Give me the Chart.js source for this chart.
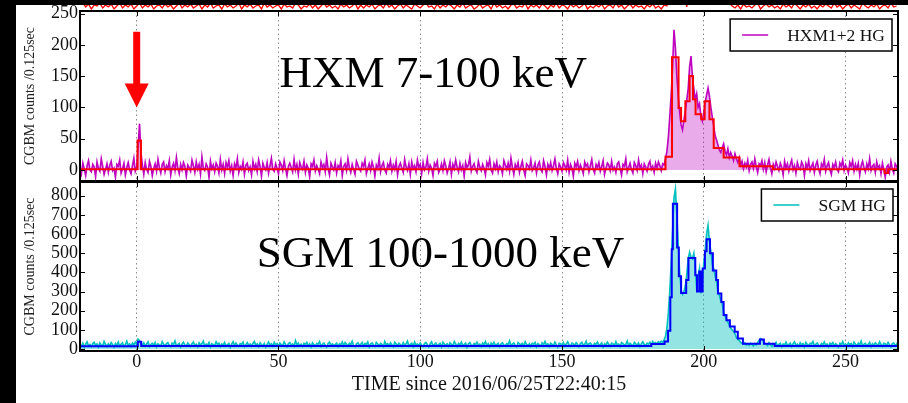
<!DOCTYPE html>
<html>
<head>
<meta charset="utf-8">
<title>CGBM light curve</title>
<script src="https://cdn.jsdelivr.net/npm/chart.js@4.4.0/dist/chart.umd.min.js"></script>
<style>
  html, body { margin: 0; padding: 0; background: #000; }
  body { width: 908px; height: 403px; position: relative; overflow: hidden; }
  #sheet { position: absolute; left: 16px; top: 5px; width: 892px; height: 398px; background: #fff; }
  canvas { position: absolute; left: 16px; }
</style>
</head>
<body>
<div id="sheet"></div>
<canvas id="upper" width="892" height="6" style="top:5px"></canvas>
<canvas id="hxm" width="892" height="177" style="top:5px"></canvas>
<canvas id="sgm" width="892" height="222" style="top:181px"></canvas>
<script>
// Courbes de lumière CGBM, pas de 0.5 s depuis T0 = 2016/06/25T22:40:15
const binStart = -20;
const binWidth = 0.5;
const timeTicks = [0, 50, 100, 150, 200, 250];
const hxmTicks = [0, 50, 100, 150, 200, 250];
const sgmTicks = [0, 100, 200, 300, 400, 500, 600, 700, 800];

// HXM1+2 HG (comptes / 0.125 s), une ligne = 10 s
const hxmCounts = [
  4, -6, 11, 2, -9, 7, 15, 0, -3, 9, 5, -11, 13, 3, -2, 18, 6, -7, 1, 10,
  -4, 8, 14, -1, 3, -12, 9, 6, 16, -5, 2, 11, -8, 4, 12, 0, -6, 7, 19, -2,
  5, 38, 74, 28, 8, -7, 12, 1, -4, 14, 6, -9, 3, 10, -2, 17, 4, -5, 9, 13,
  -3, 7, 2, 15, -8, 5, 11, -1, 20, 3, -6, 9, 0, 12, 6, -10, 8, 4, -2, 16,
  7, -4, 13, 1, 9, -7, 21, 3, -1, 10, 5, -12, 14, 2, 8, -3, 11, 6, -5, 17,
  0, 9, -6, 12, 4, 15, -2, 7, -9, 10, 3, 18, -4, 6, 1, 13, -7, 8, 11, -1,
  5, -8, 14, 2, 9, -3, 16, 6, -10, 11, 4, 0, 12, -5, 7, 19, 1, -2, 10, 3,
  -6, 13, 8, -1, 15, 2, -9, 6, 11, 4, -3, 17, 0, 9, -7, 12, 5, 1, 14, -4,
  8, 3, -11, 10, 6, 16, -2, 7, 1, -6, 13, 4, 9, -3, 20, 2, -8, 11, 5, 0,
  12, -5, 7, 3, 15, -9, 6, 10, -1, 18, 4, -4, 9, 1, -7, 14, 8, 2, -2, 11,
  6, 16, -6, 3, 10, -1, 13, 5, -10, 8, 2, 19, -3, 7, 12, 0, -5, 9, 4, 15,
  -2, 8, 1, 14, -8, 6, 11, 3, -4, 17, 5, -1, 10, -7, 13, 2, 7, -3, 16, 4,
  9, -6, 12, 0, 5, 18, -2, 8, 3, -9, 11, 6, 14, -4, 1, 10, -1, 15, 7, -5,
  3, 13, -7, 9, 2, 16, 5, -3, 11, 0, 7, -10, 12, 4, 8, 21, -2, 6, 10, 1,
  -4, 14, 5, -1, 9, 3, -8, 12, 6, 17, 0, -5, 10, 2, 13, -3, 7, 4, -6, 15,
  8, 1, 11, -2, 19, 5, -7, 9, 3, 12, -4, 6, 14, 0, -9, 10, 7, 2, 16, -1,
  4, 11, -5, 8, 13, 1, -3, 15, 6, -8, 9, 2, 12, -1, 7, 18, 3, -6, 10, 5,
  -2, 12, 7, 0, 16, -4, 9, 3, -10, 11, 5, 14, -1, 8, 2, -6, 13, 6, 10, -3,
  7, 17, 1, -5, 9, 4, 12, -2, 6, 15, -7, 3, 11, 8, -1, 14, 0, 5, -4, 10,
  13, 2, -8, 9, 6, 18, -3, 4, 11, 1, -5, 12, 7, -1, 16, 3, 8, -6, 10, 5,
  -2, 9, 14, 1, 6, -4, 11, 3, 13, 7, -1, 10, 8, 18, 30, 52, 85, 120, 165, 224,
  195, 150, 118, 92, 72, 64, 80, 95, 112, 130, 165, 182, 148, 130, 112, 122, 100, 106, 85, 78,
  92, 108, 120, 131, 118, 100, 85, 70, 55, 48, 40, 32, 28, 36, 42, 30, 24, 34, 20, 28,
  22, 15, 26, 18, 12, 20, 8, 14, 2, 11, 5, 16, -1, 9, 13, 3, 18, 6, -4, 10,
  7, 15, 1, 12, -3, 8, 17, 4, -6, 9, 2, 13, 6, -1, 11, 5, -8, 14, 3, 10,
  -2, 9, 16, 0, 7, -5, 12, 4, 1, 13, 8, -9, 10, 3, 15, -1, 6, 11, -4, 8,
  14, 2, -6, 10, 5, 17, -2, 7, 12, 0, -7, 9, 4, 13, 1, -3, 11, 6, 16, -1,
  8, 3, -5, 12, 6, 15, -2, 9, 1, 11, -8, 7, 14, 4, -3, 10, 2, 18, -1, 6,
  9, -4, 13, 3, 7, -6, 11, 1, -12, 5, 8, -3, 14, 2, -5, 10, 6, 0
];

// blocs HXM (début du bloc en s, niveau)
const hxmBlockStart = [-20, 0.3, 1.5, 186.5, 188.8, 191.1, 192.0, 193.5, 195.0, 196.2,
  197.1, 199.1, 200.3, 202.0, 203.5, 207.0, 212.6, 224.3, 263.8, 265.0, 268.5];
const hxmBlockLevel = [1, 47, 1, 21, 180, 99, 78, 110, 150, 113,
  89, 81, 110, 81, 35, 20, 6, 1, -5, 1, 1];

// SGM HG (comptes / 0.125 s), une ligne = 10 s
const sgmCounts = [
  22, 14, 31, 9, 26, 38, 17, 24, 12, 29, 35, 19, 27, 11, 33, 21, 16, 40, 25, 13,
  28, 18, 34, 23, 10, 30, 20, 37, 15, 26, 32, 12, 24, 42, 19, 27, 14, 31, 22, 36,
  25, 52, 45, 30, 21, 33, 16, 27, 38, 13, 24, 31, 19, 35, 11, 28, 22, 17, 39, 26,
  15, 29, 34, 20, 12, 31, 25, 43, 18, 23, 30, 10, 27, 36, 21, 16, 32, 24, 14, 28,
  37, 19, 25, 12, 33, 22, 29, 41, 15, 26, 20, 34, 11, 28, 23, 17, 38, 24, 31, 13,
  27, 21, 35, 16, 24, 30, 9, 26, 39, 18, 32, 22, 14, 29, 25, 36, 12, 23, 34, 19,
  26, 15, 31, 40, 20, 27, 13, 33, 24, 17, 30, 11, 25, 37, 21, 28, 16, 35, 22, 29,
  14, 32, 23, 18, 38, 25, 12, 29, 34, 20, 27, 15, 44, 22, 31, 17, 26, 13, 30, 24,
  35, 19, 28, 11, 33, 23, 16, 30, 26, 39, 14, 25, 32, 20, 10, 29, 36, 21, 27, 18,
  24, 31, 13, 28, 22, 37, 17, 34, 26, 15, 30, 23, 41, 19, 12, 27, 33, 20, 25, 35,
  16, 29, 24, 38, 11, 26, 32, 21, 14, 35, 27, 18, 30, 25, 13, 40, 22, 28, 17, 33,
  23, 12, 36, 27, 19, 31, 24, 15, 34, 21, 28, 42, 16, 25, 30, 13, 37, 22, 26, 18,
  31, 20, 14, 29, 35, 24, 11, 27, 38, 19, 25, 32, 17, 23, 30, 12, 36, 26, 21, 28,
  15, 33, 24, 19, 40, 27, 13, 30, 22, 36, 18, 25, 31, 10, 28, 34, 21, 16, 29, 23,
  37, 20, 26, 14, 32, 24, 39, 17, 28, 12, 31, 22, 35, 19, 25, 30, 13, 27, 33, 21,
  18, 29, 24, 43, 15, 26, 32, 20, 11, 34, 27, 23, 30, 16, 38, 25, 19, 28, 14, 31,
  26, 35, 12, 29, 22, 17, 33, 24, 40, 20, 27, 13, 31, 25, 18, 36, 23, 10, 30, 28,
  21, 34, 16, 26, 38, 22, 14, 31, 27, 19, 33, 24, 12, 29, 35, 20, 25, 41, 17, 28,
  32, 23, 15, 30, 26, 37, 18, 24, 33, 11, 28, 21, 36, 25, 14, 31, 27, 19, 39, 22,
  26, 13, 34, 29, 20, 25, 42, 17, 30, 23, 15, 35, 27, 21, 32, 12, 28, 38, 24, 19,
  31, 26, 36, 22, 40, 29, 34, 27, 38, 32, 41, 35, 48, 66, 110, 190, 300, 450, 620, 790,
  835, 700, 540, 400, 310, 285, 300, 330, 390, 470, 505, 480, 470, 500, 430, 310, 380, 420, 290, 360,
  450, 520, 600, 645, 560, 510, 440, 420, 380, 350, 300, 280, 250, 235, 190, 170, 155, 140, 125, 110,
  100, 92, 80, 60, 52, 44, 35, 30, 26, 33, 21, 28, 19, 31, 24, 16, 29, 22, 35, 45,
  55, 50, 41, 30, 26, 18, 33, 24, 14, 28, 21, 35, 17, 25, 30, 12, 27, 22, 36, 19,
  24, 31, 13, 28, 38, 20, 26, 15, 33, 22, 29, 11, 35, 24, 18, 30, 27, 40, 16, 25,
  32, 21, 14, 29, 23, 37, 19, 26, 12, 31, 25, 34, 17, 28, 22, 10, 30, 24, 39, 20,
  27, 16, 33, 23, 29, 13, 36, 25, 19, 31, 22, 42, 15, 26, 30, 18, 24, 35, 12, 28,
  21, 33, 26, 17, 38, 24, 14, 30, 27, 20, 35, 23, 11, 29, 32, 19, 25, 37
];

// blocs SGM (début du bloc en s, niveau)
const sgmBlockStart = [-20, 0.4, 1.6, 181.5, 186.2, 187.4, 188.2, 188.7, 189.1, 190.6,
  191.2, 192.0, 193.8, 194.6, 197.0, 197.6, 198.4, 199.0, 199.6, 200.4,
  201.0, 202.2, 203.2, 204.4, 205.0, 206.2, 207.0, 208.0, 209.2, 210.9,
  212.0, 213.8, 219.8, 221.2, 225.0, 268.5];
const sgmBlockLevel = [15, 38, 16, 26, 40, 95, 270, 520, 758, 530,
  380, 292, 360, 475, 385, 300, 405, 300, 420, 510,
  572, 500, 410, 360, 290, 245, 178, 150, 118, 90,
  55, 28, 50, 28, 16, 16];

// bas du panneau du dessus (pas de 1 s)
const upperStart = -20;
const upperWidth = 1;
const upperCounts = [
  9, 8, 4, 7, 2, 6, 5, 8, 3, 6,
  4, 7, 2, 5, 8, 3, 6, 4, 7, 2,
  5, 8, 3, 6, 4, 7, 2, 5, 6, 3,
  7, 4, 6, 2, 5, 8, 3, 6, 4, 7,
  3, 5, 7, 2, 6, 4, 8, 3, 5, 6,
  2, 7, 4, 6, 3, 5, 8, 2, 6, 4,
  7, 3, 5, 6, 2, 8, 4, 6, 3, 5,
  6, 2, 7, 4, 5, 3, 8, 6, 2, 5,
  4, 7, 3, 6, 2, 5, 8, 4, 6, 3,
  5, 2, 7, 4, 6, 3, 5, 8, 2, 6,
  3, 6, 4, 7, 2, 5, 6, 3, 8, 4,
  6, 2, 5, 7, 3, 6, 4, 2, 7, 5,
  3, 6, 8, 4, 5, 2, 7, 3, 6, 4,
  7, 5, 2, 6, 4, 8, 3, 5, 6, 2,
  4, 7, 3, 5, 6, 2, 8, 4, 6, 3,
  5, 2, 6, 7, 3, 5, 4, 8, 2, 6,
  4, 6, 3, 7, 5, 2, 6, 4, 8, 3,
  6, 5, 2, 7, 4, 6, 3, 5, 8, 2,
  5, 3, 6, 4, 7, 2, 5, 6, 3, 8,
  4, 6, 2, 5, 7, 3, 6, 4, 5, 2,
  6, 4, 7, 3, 5, 2, 6, 5, 20, 40,
  60, 80, 70, 40, 4, 30, 50, 60, 45, 40,
  35, 30, 28, 25, 20, 18, 15, 12, 10, 8,
  5, 3, 6, 2, 7, 4, 5, 3, 6, 8,
  2, 5, 7, 4, 6, 3, 5, 2, 7, 4,
  6, 3, 8, 5, 2, 6, 4, 7, 3, 5,
  2, 6, 4, 7, 5, 3, 8, 4, 6, 2,
  5, 7, 3, 6, 4, 2, 8, 5, 3, 6,
  4, 7, 2, 5, 6, 3, 8, 4, 5
];

const timeMin = -20;
const timeMax = 268.5;
const serif = '"Liberation Serif", "DejaVu Serif", serif';

Chart.defaults.font.family = serif;
Chart.defaults.color = '#000';

function binPoints(values, start, width) {
  return values.map((v, i) => ({ x: start + i * width, y: v }));
}

function blockPoints(starts, levels) {
  return starts.map((s, i) => ({ x: s, y: levels[i] }));
}

// cadre noir et graduations vers l'intérieur sur les 4 côtés
const frameTicks = {
  id: 'frameTicks',
  afterDraw(chart) {
    const { ctx, chartArea: a, scales } = chart;
    const len = 5;
    ctx.save();
    ctx.strokeStyle = '#000';
    ctx.lineWidth = 1;
    ctx.beginPath();
    scales.x.ticks.forEach(function(t) {
      const px = Math.round(scales.x.getPixelForValue(t.value)) + 0.5;
      ctx.moveTo(px, a.top); ctx.lineTo(px, a.top + len);
      ctx.moveTo(px, a.bottom); ctx.lineTo(px, a.bottom - len);
    });
    scales.y.ticks.forEach(function(t) {
      const py = Math.round(scales.y.getPixelForValue(t.value)) + 0.5;
      ctx.moveTo(a.left, py); ctx.lineTo(a.left + len, py);
      ctx.moveTo(a.right, py); ctx.lineTo(a.right - len, py);
    });
    ctx.stroke();
    ctx.lineWidth = 2;
    ctx.strokeRect(a.left, a.top, a.right - a.left, a.bottom - a.top);
    ctx.restore();
  }
};

// légende encadrée en haut à droite
const boxLegend = {
  id: 'boxLegend',
  afterDraw(chart, args, opts) {
    const ds = chart.data.datasets[opts.datasetIndex];
    const { ctx, chartArea: a } = chart;
    ctx.save();
    ctx.font = '17.5px ' + serif;
    const w = 57 + ctx.measureText(ds.label).width + 7;
    const h = 32;
    const x = a.right - opts.right - w;
    const y = a.top + opts.top;
    ctx.fillStyle = '#fff';
    ctx.fillRect(x, y, w, h);
    ctx.strokeStyle = '#000';
    ctx.lineWidth = 1.5;
    ctx.strokeRect(x, y, w, h);
    ctx.strokeStyle = ds.borderColor;
    ctx.lineWidth = 1.5;
    ctx.beginPath();
    ctx.moveTo(x + 12, y + h / 2);
    ctx.lineTo(x + 38, y + h / 2);
    ctx.stroke();
    ctx.fillStyle = '#111';
    ctx.textBaseline = 'middle';
    ctx.fillText(ds.label, x + 57, y + h / 2 + 1);
    ctx.restore();
  }
};

// texte du panneau et flèche rouge
const notes = {
  id: 'notes',
  afterDatasetsDraw(chart, args, opts) {
    const { ctx, scales: { x, y } } = chart;
    ctx.save();
    ctx.font = '45px ' + serif;
    ctx.fillStyle = '#000';
    ctx.fillText(opts.text, x.getPixelForValue(opts.at[0]), y.getPixelForValue(opts.at[1]));
    if (opts.arrow) {
      const px = x.getPixelForValue(opts.arrow.x);
      const yTop = y.getPixelForValue(opts.arrow.from);
      const yTip = y.getPixelForValue(opts.arrow.to);
      const yHead = yTip - 24;
      ctx.fillStyle = '#ff0000';
      ctx.beginPath();
      ctx.moveTo(px - 3.5, yTop);
      ctx.lineTo(px + 3.5, yTop);
      ctx.lineTo(px + 3.5, yHead);
      ctx.lineTo(px + 12, yHead);
      ctx.lineTo(px, yTip);
      ctx.lineTo(px - 12, yHead);
      ctx.lineTo(px - 3.5, yHead);
      ctx.closePath();
      ctx.fill();
    }
    ctx.restore();
  }
};

function xAxis(showLabels) {
  return {
    type: 'linear',
    min: timeMin,
    max: timeMax,
    afterBuildTicks: function(scale) {
      scale.ticks = timeTicks.map(v => ({ value: v }));
    },
    afterFit: function(scale) {
      scale.height = showLabels ? 52 : 0;
      scale.paddingLeft = 0;
      scale.paddingRight = 0;
    },
    grid: { display: true, drawTicks: false, color: '#8a8a8a', lineWidth: 1 },
    border: { display: false, dash: [1.5, 3] },
    ticks: { display: showLabels, autoSkip: false, maxRotation: 0, padding: 0, font: { size: 18 }, color: '#111' },
    title: {
      display: showLabels,
      text: 'TIME since 2016/06/25T22:40:15',
      font: { size: 20 },
      color: '#111',
      padding: { top: 0, bottom: 6 }
    }
  };
}

function yAxis(min, max, tickValues) {
  return {
    type: 'linear',
    min: min,
    max: max,
    afterBuildTicks: function(scale) {
      scale.ticks = tickValues.map(v => ({ value: v }));
    },
    afterFit: function(scale) {
      scale.width = 64;
      scale.paddingTop = 0;
      scale.paddingBottom = 0;
    },
    grid: { display: false, drawTicks: false },
    border: { display: false },
    ticks: { autoSkip: false, padding: 2, font: { size: 18 }, color: '#111' },
    title: {
      display: true,
      text: 'CGBM counts /0.125sec',
      font: { size: 14 },
      color: '#222',
      padding: { top: 6, bottom: 0 }
    }
  };
}

const common = {
  responsive: false,
  animation: false,
  devicePixelRatio: 1,
  events: []
};

// bande rouge coupée en haut
new Chart(document.getElementById('upper'), {
  type: 'line',
  data: {
    datasets: [{
      data: binPoints(upperCounts, upperStart, upperWidth),
      borderColor: '#ff0000',
      borderWidth: 1.3,
      pointRadius: 0,
      fill: false
    }]
  },
  options: Object.assign({}, common, {
    layout: { padding: { left: 64, right: 10, top: 0, bottom: 0 } },
    plugins: { legend: { display: false }, tooltip: { enabled: false } },
    scales: {
      x: { type: 'linear', min: timeMin, max: timeMax, display: false },
      y: { min: 0, max: 6, display: false }
    }
  })
});

// panneau HXM 7-100 keV
new Chart(document.getElementById('hxm'), {
  type: 'line',
  data: {
    datasets: [{
      label: 'HXM blocks',
      data: blockPoints(hxmBlockStart, hxmBlockLevel),
      borderColor: '#ff0000',
      borderWidth: 2,
      stepped: true,
      pointRadius: 0,
      fill: false,
      order: 0
    }, {
      label: 'HXM1+2 HG',
      data: binPoints(hxmCounts, binStart, binWidth),
      borderColor: '#bf00bf',
      backgroundColor: 'rgba(191, 0, 191, 0.33)',
      borderWidth: 1.6,
      pointRadius: 0,
      fill: 'origin',
      order: 1
    }]
  },
  options: Object.assign({}, common, {
    layout: { padding: { left: 0, right: 10, top: 6, bottom: 1 } },
    plugins: {
      legend: { display: false },
      tooltip: { enabled: false },
      boxLegend: { datasetIndex: 1, right: 6, top: 8 },
      notes: { text: 'HXM 7-100 keV', at: [50.4, 132], arrow: { x: 0, from: 221, to: 100 } }
    },
    scales: { x: xAxis(false), y: yAxis(-17.6, 254, hxmTicks) }
  }),
  plugins: [frameTicks, boxLegend, notes]
});

// panneau SGM 100-1000 keV
new Chart(document.getElementById('sgm'), {
  type: 'line',
  data: {
    datasets: [{
      label: 'SGM blocks',
      data: blockPoints(sgmBlockStart, sgmBlockLevel),
      borderColor: '#0000ff',
      borderWidth: 2,
      stepped: true,
      pointRadius: 0,
      fill: false,
      order: 0
    }, {
      label: 'SGM HG',
      data: binPoints(sgmCounts, binStart, binWidth),
      borderColor: '#00bfbf',
      backgroundColor: 'rgba(0, 191, 191, 0.42)',
      borderWidth: 1.6,
      pointRadius: 0,
      fill: 'origin',
      order: 1
    }]
  },
  options: Object.assign({}, common, {
    layout: { padding: { left: 0, right: 10, top: 1, bottom: 0 } },
    plugins: {
      legend: { display: false },
      tooltip: { enabled: false },
      boxLegend: { datasetIndex: 1, right: 5, top: 7 },
      notes: { text: 'SGM 100-1000 keV', at: [42.3, 428] }
    },
    scales: { x: xAxis(true), y: yAxis(-10, 871, sgmTicks) }
  }),
  plugins: [frameTicks, boxLegend, notes]
});
</script>
</body>
</html>
